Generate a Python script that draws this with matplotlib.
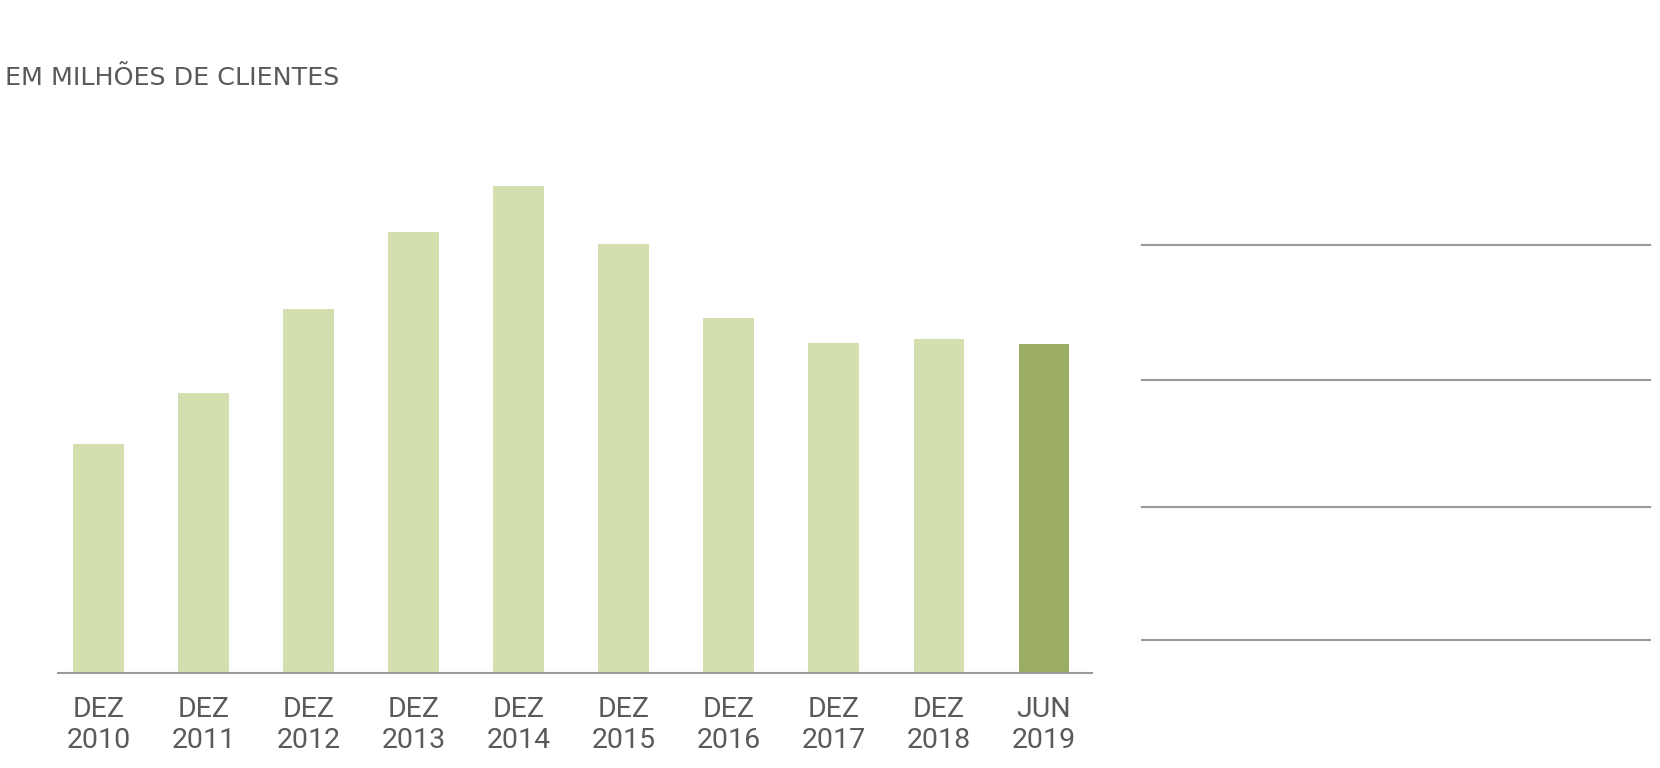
import matplotlib
matplotlib.use("Agg")
import matplotlib.pyplot as plt
from matplotlib.lines import Line2D

# data (millions of clients)
periods = ["DEZ\n2010", "DEZ\n2011", "DEZ\n2012", "DEZ\n2013", "DEZ\n2014",
           "DEZ\n2015", "DEZ\n2016", "DEZ\n2017", "DEZ\n2018", "JUN\n2019"]
clients = [21.6, 26.4, 34.4, 41.6, 46.0, 40.5, 33.5, 31.2, 31.5, 31.1]
highlight = [False] * 9 + [True]

light_green = "#d3dfae"
dark_green = "#9bad63"
text_grey = "#5a5a5a"
line_grey = "#9a9a9a"

plt.rcParams['font.family'] = ['Roboto', 'DejaVu Sans']

W, H = 1660, 768
fig = plt.figure(figsize=(W / 100, H / 100), dpi=100)
fig.patch.set_facecolor("white")

# bar axes: x 58..1092 px, y 100..673 px
ax = fig.add_axes([58 / W, (H - 673) / H, (1092 - 58) / W, (673 - 100) / H])
colors = [dark_green if h else light_green for h in highlight]
ax.bar(range(len(clients)), clients, width=0.483, color=colors, zorder=2)
ax.set_xlim(-0.385, len(clients) - 1 + 0.457)
ax.set_ylim(0, 54.1)

for s in ["top", "right", "left"]:
    ax.spines[s].set_visible(False)
ax.spines["bottom"].set_color(line_grey)
ax.spines["bottom"].set_linewidth(1.5)
ax.spines["bottom"].set_zorder(3)
ax.set_yticks([])
ax.set_xticks(range(len(periods)))
ax.set_xticklabels(periods, fontsize=20.5, color=text_grey, linespacing=1.2)
ax.tick_params(axis="x", length=0, pad=16.5)

fig.text(5 / W, 1 - 78 / H, "EM MILHÕES DE CLIENTES", fontsize=18.3,
         color=text_grey, ha="left", va="center", family="DejaVu Sans")

# empty guide lines on the right
guide_y = [245, 380, 507, 640]
for y in guide_y:
    fig.add_artist(Line2D([1142 / W, 1650 / W], [1 - y / H, 1 - y / H],
                          color=line_grey, linewidth=1.5))

fig.savefig("out.png", dpi=100, facecolor="white")
